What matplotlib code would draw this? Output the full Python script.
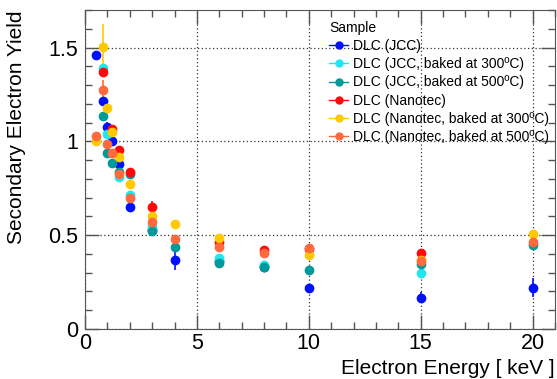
import numpy as np
import matplotlib
matplotlib.use("Agg")
import matplotlib.pyplot as plt
from matplotlib.lines import Line2D
from matplotlib.ticker import MultipleLocator

plt.rcParams['font.family'] = ['Liberation Sans', 'DejaVu Sans']

# energies [keV], yields and errors per sample
jcc_e = [0.5, 0.8, 1.0, 1.2, 1.5, 2, 3, 4, 6, 8, 10, 15, 20]
jcc_y = [1.46, 1.216, 1.075, 1.00, 0.877, 0.652, 0.525, 0.367, 0.362, 0.333, 0.221, 0.167, 0.221]
jcc_err = [0.01, 0.01, 0.03, 0.01, 0.015, 0.015, 0.01, 0.05, 0.01, 0.01, 0.015, 0.03, 0.05]

jcc300_e = [0.8, 1.0, 1.5, 2, 3, 6, 8, 15]
jcc300_y = [1.389, 1.041, 0.809, 0.715, 0.545, 0.381, 0.342, 0.298]
jcc300_err = [0.01, 0.01, 0.01, 0.01, 0.01, 0.01, 0.01, 0.01]

jcc500_e = [0.8, 1.0, 1.2, 1.5, 2, 3, 4, 6, 8, 10, 15, 20]
jcc500_y = [1.135, 0.937, 0.886, 0.836, 0.828, 0.524, 0.435, 0.351, 0.332, 0.315, 0.349, 0.448]
jcc500_err = [0.01, 0.01, 0.01, 0.01, 0.01, 0.01, 0.01, 0.01, 0.01, 0.01, 0.01, 0.01]

nano_e = [0.8, 1.2, 1.5, 2, 3, 6, 8, 10, 15]
nano_y = [1.372, 1.066, 0.955, 0.836, 0.652, 0.461, 0.421, 0.425, 0.405]
nano_err = [0.01, 0.01, 0.01, 0.01, 0.03, 0.01, 0.01, 0.01, 0.01]

nano300_e = [0.5, 0.8, 1.0, 1.2, 1.5, 2, 3, 4, 6, 10, 15, 20]
nano300_y = [1.002, 1.504, 1.18, 1.052, 0.916, 0.773, 0.600, 0.558, 0.483, 0.396, 0.369, 0.506]
nano300_err = [0.01, 0.12, 0.01, 0.01, 0.01, 0.01, 0.01, 0.01, 0.01, 0.01, 0.01, 0.01]

nano500_e = [0.5, 0.8, 1.0, 1.2, 1.5, 2, 3, 4, 6, 8, 10, 15, 20]
nano500_y = [1.027, 1.276, 0.988, 0.937, 0.824, 0.699, 0.572, 0.482, 0.435, 0.403, 0.431, 0.36, 0.461]
nano500_err = [0.01, 0.05, 0.01, 0.01, 0.01, 0.01, 0.01, 0.01, 0.01, 0.01, 0.01, 0.01, 0.01]

labels = ['DLC (JCC)', 'DLC (JCC, baked at 300ºC)', 'DLC (JCC, baked at 500ºC)',
          'DLC (Nanotec)', 'DLC (Nanotec, baked at 300ºC)', 'DLC (Nanotec, baked at 500ºC)']
colors = ['#0010ff', '#20e6f0', '#009a9a', '#ff0a0a', '#ffc800', '#ff6a3d']

series = [(jcc_e, jcc_y, jcc_err), (jcc300_e, jcc300_y, jcc300_err), (jcc500_e, jcc500_y, jcc500_err),
          (nano_e, nano_y, nano_err), (nano300_e, nano300_y, nano300_err), (nano500_e, nano500_y, nano500_err)]

fig = plt.figure(figsize=(5.57, 3.79), dpi=100)
ax = fig.add_axes([85/557, 1-329/379, 470/557, 319/379])

for (e, y, err), c, lab in zip(series, colors, labels):
    ax.errorbar(e, y, yerr=err, fmt='o', color=c, ms=6, elinewidth=1.2, capsize=0, zorder=3)

ax.set_xlim(0, 21)
ax.set_ylim(0, 1.7)
ax.xaxis.set_major_locator(MultipleLocator(5))
ax.xaxis.set_minor_locator(MultipleLocator(1))
ax.yaxis.set_major_locator(MultipleLocator(0.5))
ax.yaxis.set_minor_locator(MultipleLocator(0.1))
ax.yaxis.set_major_formatter(plt.FuncFormatter(lambda v, p: '%g' % v))

ax.grid(True, which='major', linestyle=(0, (1, 2)), color='#333333', linewidth=0.9, zorder=0)
ax.set_axisbelow(True)
for s in ax.spines.values():
    s.set_color('#555555')
ax.tick_params(which='both', direction='in', top=True, right=True, colors='#555555', labelcolor='black', labelsize=15.5)
ax.tick_params(which='major', length=10, width=1)
ax.tick_params(which='minor', length=5, width=1)
ax.tick_params(axis='y', pad=5)
ax.tick_params(axis='x', pad=3)

fig.text(17/557, 1-10/379, 'Secondary Electron Yield', rotation=90, ha='center', va='top', fontsize=15)
fig.text(555/557, 1-368/379, 'Electron Energy [ keV ]', ha='right', va='center', fontsize=15)

handles = [Line2D([], [], color=c, marker='o', ms=5, lw=1) for c in colors]
leg = ax.legend(handles, labels, title='Sample', loc='upper left', bbox_to_anchor=(322/557, 1-14/379),
                bbox_transform=fig.transFigure, frameon=False, fontsize=10, title_fontsize=10,
                handlelength=1.4, handletextpad=0.3, labelspacing=0.3, borderpad=0, alignment='left')

fig.savefig('out.png', dpi=100)
